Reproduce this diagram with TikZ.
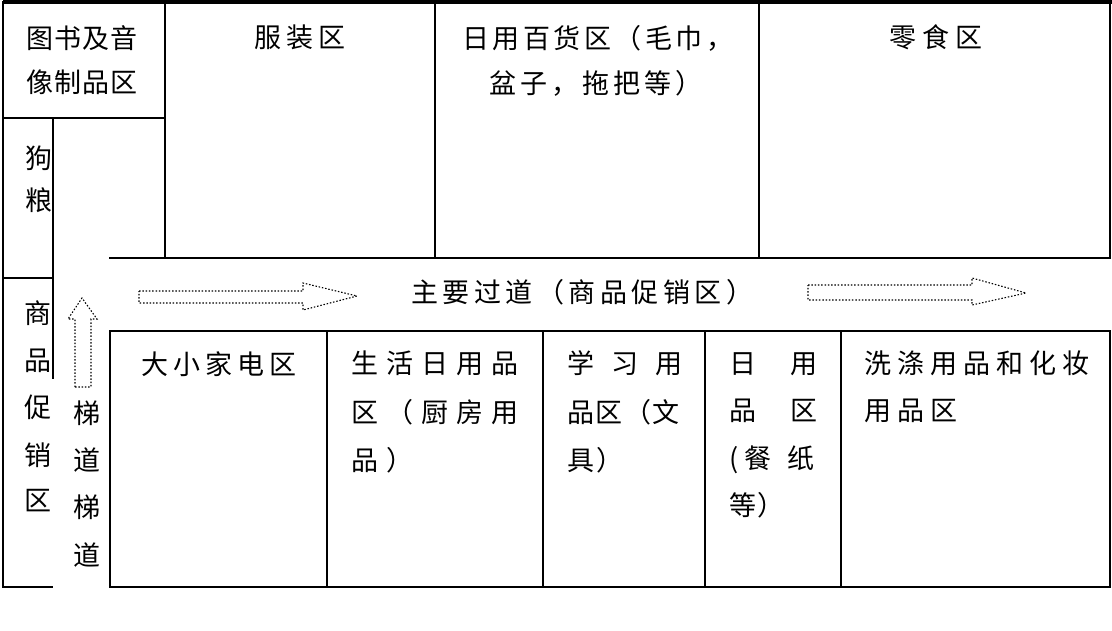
\documentclass[tikz,border=0pt]{standalone}
\usepackage{fontspec}
\setmainfont{Noto Sans CJK SC}
\newlength\gapl
\def\spcA#1{\ifx#1\relax\else#1\hspace{\gapl}\expandafter\spcA\fi}
\newcommand\sline[2]{\setlength\gapl{#1}\spcA#2\relax}
\tikzset{
  wall/.style={line width=1.6pt, line cap=rect},
  topwall/.style={line width=3.6pt},
  lbl/.style={inner sep=0pt, anchor=base west, font=\fontsize{27}{27}\selectfont},
  vlbl/.style={inner sep=0pt, anchor=base, font=\fontsize{27}{27}\selectfont},
  flow/.style={dash pattern=on 1.5pt off 1.8pt, line width=1.1pt, line join=miter}
}
\begin{document}
\begin{tikzpicture}[x=1pt, y=-1pt]
\useasboundingbox (0,0) rectangle (1112,630);
\fill[white] (0,0) rectangle (1112,630);
% walls
\draw[topwall] (3,2) -- (1112,2);
\draw[wall] (3,2) -- (3,587);
\draw[wall] (3,118) -- (165,118);
\draw[wall] (165,2) -- (165,258);
\draw[wall] (53,118) -- (53,378);
\draw[wall] (3,278) -- (53,278);
\draw[wall] (3,587) -- (52,587);
\draw[wall] (110,258) -- (1110,258);
\draw[wall] (435,2) -- (435,258);
\draw[wall] (759,2) -- (759,258);
\draw[wall] (1110,2) -- (1110,258);
\draw[wall] (110,331) rectangle (1110,587);
\foreach \xx in {327,543,705,841} \draw[wall] (\xx,331) -- (\xx,587);
% top row labels
\node[lbl] (ts1) at (26,48) {\sline{1pt}{图书及音}};
\node[lbl] (ts2) at (26,92) {\sline{1pt}{像制品区}};
\node[lbl] (fz) at (254,47) {\sline{5pt}{服装区}};
\node[lbl] (ry1) at (462,48) {\sline{3.5pt}{日用百货区（毛巾，}};
\node[lbl] (ry2) at (489,93) {\sline{4pt}{盆子，拖把等）}};
\node[lbl] (ls) at (889,47) {\sline{6pt}{零食区}};
% left column
\node[vlbl] (gl1) at (39,168) {狗};
\node[vlbl] (gl2) at (39,210) {粮};
\foreach \ch/\yy [count=\i] in {商/323,品/370,促/417,销/465,区/510}
  \node[vlbl] (cx\i) at (38,\yy) {\ch};
\foreach \ch/\yy [count=\i] in {梯/423,道/470,梯/517,道/565}
  \node[vlbl] (td\i) at (87,\yy) {\ch};
% passage
\node[lbl] (zy) at (411,302.5) {\sline{4.5pt}{主要过道（商品促销区）}};
% bottom row
\node[lbl] (dx) at (141,374) {\sline{5pt}{大小家电区}};
\node[lbl] (sh1) at (351,373) {\sline{8pt}{生活日用品}};
\node[lbl] (sh2) at (351,422) {\sline{8pt}{区（厨房用}};
\node[lbl] (sh3) at (351,470) {\sline{8pt}{品）}};
\node[lbl] (xx1) at (567,373) {\sline{17pt}{学习用}};
\node[lbl] (xx2) at (567,422) {\sline{1.5pt}{品区（文}};
\node[lbl] (xx3) at (567,470) {\sline{2pt}{具）}};
\node[lbl] (rp1) at (729,373) {\sline{34pt}{日用}};
\node[lbl] (rp2) at (729,420) {\sline{34pt}{品区}};
\node[lbl] (rp3) at (729,468) {(\hspace{6pt}餐\hspace{16pt}纸};
\node[lbl] (rp4) at (729,515) {\sline{1pt}{等）}};
\node[lbl] (xd1) at (864,373) {\sline{6pt}{洗涤用品和化妆}};
\node[lbl] (xd2) at (864,420) {\sline{6pt}{用品区}};
% flow arrows
\draw[flow] (139,291) -- (303,291) -- (303,283) -- (357,296) -- (303,310) -- (303,303) -- (139,303) -- cycle;
\draw[flow] (808,285) -- (972,285) -- (972,278) -- (1026,293) -- (972,305) -- (972,300) -- (808,300) -- cycle;
\draw[flow] (75,387) -- (75,319) -- (68,319) -- (82,298) -- (97,319) -- (91,319) -- (91,387) -- cycle;
\end{tikzpicture}
\end{document}
